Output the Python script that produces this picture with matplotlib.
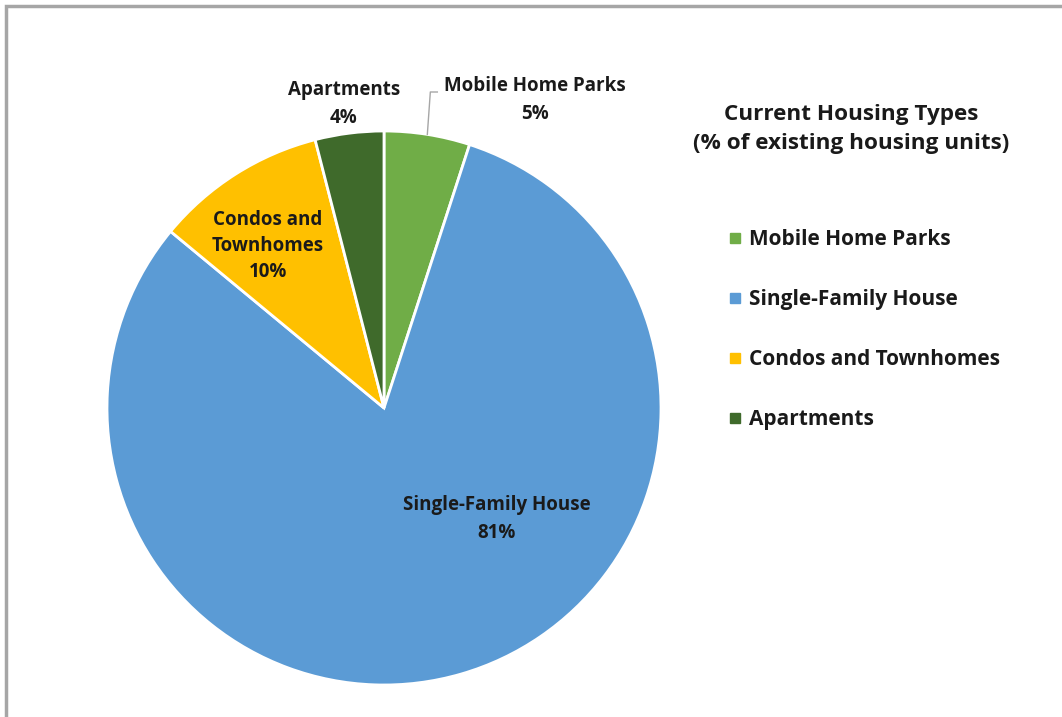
import numpy as np
import matplotlib.pyplot as plt
from matplotlib.lines import Line2D
from matplotlib.patches import Rectangle

categories = ["Mobile Home Parks", "Single-Family House", "Condos and Townhomes", "Apartments"]
shares = [5, 81, 10, 4]
colors = ["#70AD47", "#5B9BD5", "#FFC000", "#3F6A2B"]
slice_labels = ["Mobile Home Parks\n5%", "Single-Family House\n81%",
                "Condos and\nTownhomes\n10%", "Apartments\n4%"]
title = "Current Housing Types\n(% of existing housing units)"

W, H = 1062, 717
plt.rcParams['font.family'] = ['Open Sans', 'DejaVu Sans']
plt.rcParams['font.weight'] = 'bold'

fig = plt.figure(figsize=(W / 100, H / 100), dpi=100)
ax = fig.add_axes([0, 0, 1, 1])


def py(y):
    # pixel row from top -> data y
    return H - y


# outer frame (only top/left visible in the crop)
ax.add_patch(Rectangle((6, -20), W + 40, py(6) + 20, fill=False,
                       edgecolor="#A6A6A6", linewidth=2.5))

cx, cy, r = 384, py(408), 277
wedges, _ = ax.pie(shares, colors=colors, startangle=90, counterclock=False,
                   center=(cx, cy), radius=r, frame=True,
                   wedgeprops=dict(edgecolor="white", linewidth=2))
ax.set_xlim(0, W)
ax.set_ylim(0, H)
ax.set_aspect('equal')
ax.axis('off')

# data labels
label_pos = [(535, 100), (497, 519), (268, 246), (344, 104)]
spacing = [1.5, 1.5, 1.42, 1.5]
for txt, (lx, ly), ls in zip(slice_labels, label_pos, spacing):
    ax.text(lx, py(ly), txt, ha="center", va="center", fontsize=13.5,
            fontweight="bold", color="#1a1a1a", linespacing=ls)

# leader line for the Mobile Home Parks label
w0 = wedges[0]
mid = np.deg2rad((w0.theta1 + w0.theta2) / 2)
ex, ey = cx + r * np.cos(mid), cy + r * np.sin(mid)
ax.plot([ex, ex + 3, ex + 10], [ey, py(92), py(92)], color="#A6A6A6", linewidth=1)

# legend
ax.text(851, py(129), title, ha="center", va="center", fontsize=16.2,
        fontweight="bold", color="#1a1a1a", linespacing=1.5)
handles = [Line2D([], [], marker="s", linestyle="", markersize=7,
                  markerfacecolor=c, markeredgecolor=c) for c in colors]
leg = ax.legend(handles, categories, loc="upper left", bbox_to_anchor=(720 / W, 1 - 221 / H),
                frameon=False, fontsize=15, labelspacing=1.87, handlelength=0.6,
                handletextpad=0.4, borderaxespad=0)
for t in leg.get_texts():
    t.set_color("#1a1a1a")

fig.savefig("out.png", dpi=100)
